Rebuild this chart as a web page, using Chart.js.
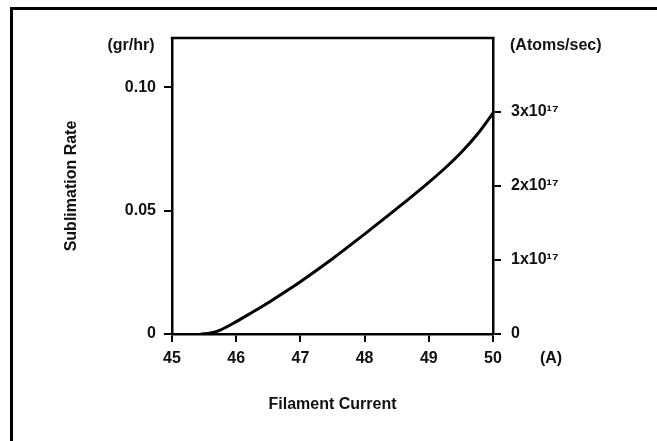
<!DOCTYPE html>
<html>
<head>
<meta charset="utf-8">
<script src="https://cdn.jsdelivr.net/npm/chart.js@4"></script>
<style>
  html, body { margin: 0; padding: 0; background: #fff; }
  #wrap { position: relative; width: 657px; height: 441px; overflow: hidden; background: #fff; }
  #frame { position: absolute; left: 10px; top: 7px; width: 700px; height: 500px;
           border-left: 3px solid #000; border-top: 3px solid #000; }
  #c { position: absolute; left: 0; top: 0; }
</style>
</head>
<body>
<div id="wrap">
  <div id="frame"></div>
  <canvas id="c" width="657" height="441"></canvas>
</div>
<script>
// ---- data ----
const currentA = [45.45, 45.6, 45.75, 46.0, 46.25, 46.5, 46.8, 47.0, 47.5, 48.0, 48.5, 49.0, 49.25, 49.5, 49.75, 50.0];
const rateGrHr = [0, 0.0004, 0.0016, 0.005, 0.0088, 0.0127, 0.0177, 0.0212, 0.0305, 0.0405, 0.0508, 0.0615, 0.0672, 0.0735, 0.0808, 0.0895];

const xTickValues = [45, 46, 47, 48, 49, 50];
const xTickLabels = ['45', '46', '47', '48', '49', '50'];
const leftTickValues = [0, 0.05, 0.10];
const leftTickLabels = ['0', '0.05', '0.10'];
const rightTickValues = [0, 1e17, 2e17, 3e17];
const rightTickLabels = ['0', '1x10\u00B9\u2077', '2x10\u00B9\u2077', '3x10\u00B9\u2077'];

const xTitle = 'Filament Current';
const yTitle = 'Sublimation Rate';
const leftUnit = '(gr/hr)';
const rightUnit = '(Atoms/sec)';
const xUnit = '(A)';

// ---- chart ----
const FONT = "'Liberation Sans', Arial, Helvetica, sans-serif";
const tickFont = { family: FONT, size: 16, weight: 'bold' };

function labelFrom(values, labels) {
  return (v) => {
    const i = values.findIndex(t => Math.abs(t - v) < 1e-9 * Math.max(1, Math.abs(t)));
    return i >= 0 ? labels[i] : '';
  };
}

const framePlugin = {
  id: 'framePlugin',
  afterDraw(chart) {
    const { ctx, chartArea: a } = chart;
    ctx.save();
    ctx.strokeStyle = '#000';
    ctx.lineWidth = 2.5;
    ctx.beginPath();
    ctx.moveTo(a.left - 1.2, a.top);
    ctx.lineTo(a.right + 1.2, a.top);
    ctx.stroke();

    ctx.fillStyle = '#111';
    ctx.font = "bold 16px " + FONT;
    ctx.textBaseline = 'middle';
    ctx.textAlign = 'center';
    ctx.fillText(leftUnit, a.left - 41, a.top + 8);
    ctx.textAlign = 'left';
    ctx.fillText(rightUnit, a.right + 17, a.top + 8);
    ctx.textAlign = 'center';
    ctx.fillText(xUnit, a.right + 58, a.bottom + 25);
    ctx.restore();
  }
};

new Chart(document.getElementById('c'), {
  type: 'line',
  data: {
    datasets: [{
      data: currentA.map((x, i) => ({ x: x, y: rateGrHr[i] })),
      borderColor: '#000',
      borderWidth: 3,
      pointRadius: 0,
      fill: false,
      cubicInterpolationMode: 'monotone',
      yAxisID: 'y'
    }]
  },
  options: {
    responsive: false,
    animation: false,
    devicePixelRatio: 1,
    layout: { padding: { left: 0, right: 0, top: 38, bottom: 0 } },
    plugins: { legend: { display: false }, tooltip: { enabled: false } },
    scales: {
      x: {
        type: 'linear',
        position: 'bottom',
        min: 45, max: 50,
        afterBuildTicks: (s) => { s.ticks = xTickValues.map(v => ({ value: v })); },
        afterFit: (s) => { s.height = 107; },
        ticks: { color: '#111', font: tickFont, padding: 7, maxRotation: 0, autoSkip: false,
                 callback: labelFrom(xTickValues, xTickLabels) },
        grid: { display: true, drawOnChartArea: false, drawTicks: true, tickLength: 8, color: '#000', lineWidth: 2 },
        border: { display: true, color: '#000', width: 2.5 },
        title: { display: true, text: xTitle, color: '#111',
                 font: { family: FONT, size: 16, weight: 'bold' }, padding: { top: 0, bottom: 27 } }
      },
      y: {
        type: 'linear',
        position: 'left',
        min: 0, max: 0.12,
        afterBuildTicks: (s) => { s.ticks = leftTickValues.map(v => ({ value: v })); },
        afterFit: (s) => { s.width = 172; },
        ticks: { color: '#111', font: tickFont, padding: 8,
                 callback: labelFrom(leftTickValues, leftTickLabels) },
        grid: { display: true, drawOnChartArea: false, drawTicks: true, tickLength: 8, color: '#000', lineWidth: 2 },
        border: { display: true, color: '#000', width: 2.5 },
        title: { display: true, text: yTitle, color: '#111',
                 font: { family: FONT, size: 16, weight: 'bold' }, padding: { top: 62, bottom: 0 } }
      },
      y2: {
        type: 'linear',
        position: 'right',
        min: 0, max: 4e17,
        afterBuildTicks: (s) => { s.ticks = rightTickValues.map(v => ({ value: v })); },
        afterFit: (s) => { s.width = 164; },
        ticks: { color: '#111', font: tickFont, padding: 10,
                 callback: labelFrom(rightTickValues, rightTickLabels) },
        grid: { display: true, drawOnChartArea: false, drawTicks: true, tickLength: 8, color: '#000', lineWidth: 2 },
        border: { display: true, color: '#000', width: 2.5 }
      }
    }
  },
  plugins: [framePlugin]
});
</script>
</body>
</html>
